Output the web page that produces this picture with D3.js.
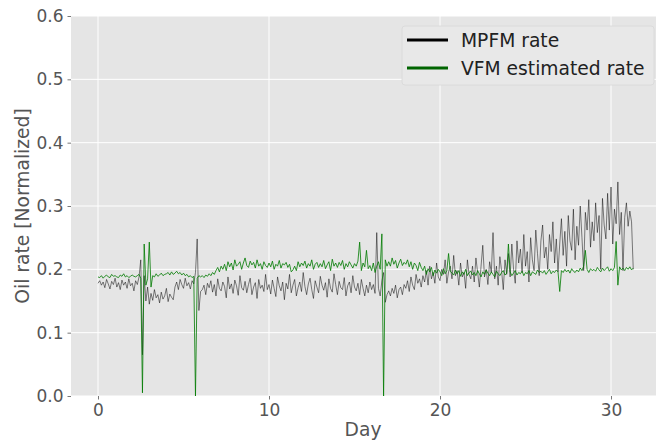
<!DOCTYPE html>
<html>
<head>
<meta charset="utf-8">
<script src="https://cdn.jsdelivr.net/npm/d3@7"></script>
<style>
  body { margin: 0; background: #fff; }
  svg text { font-family: "DejaVu Sans", sans-serif; }
</style>
</head>
<body>
<div id="chartDiv"></div>
<script>
// samples every 0.1 day, one row per day, values in thousandths
var dayStart = 0;
var dayStep = 0.1;

var mpfmRate = [
  178,182,175,180,171,184,177,169,181,176,
  186,172,179,168,183,175,180,170,185,174,
  178,166,182,176,188,215,65,190,150,172,
  145,162,151,168,155,160,147,164,153,158,
  170,149,161,156,152,172,180,168,184,176,
  170,186,174,179,169,182,177,195,248,135,
  165,168,175,160,178,171,182,164,176,158,
  185,170,166,180,173,155,188,169,177,162,
  183,174,159,190,171,167,181,163,176,186,
  160,172,179,154,184,170,175,165,192,168,
  176,161,183,170,157,188,174,166,180,152,
  178,169,192,163,175,184,158,171,180,165,
  195,173,160,177,186,168,154,182,172,163,
  189,175,167,179,156,185,170,164,193,176,
  160,181,171,168,187,158,174,180,163,190,
  172,166,178,160,184,170,158,175,163,180,
  168,176,162,258,170,158,182,195,148,160,
  166,158,170,162,175,155,168,172,160,176,
  170,182,165,188,175,168,192,178,185,172,
  190,180,198,175,205,185,195,178,210,188,
  182,200,192,215,178,196,205,185,222,190,
  198,175,210,188,195,170,215,192,185,205,
  180,218,195,172,205,238,188,200,176,212,
  195,258,185,205,175,220,198,168,215,192,
  225,188,240,200,178,245,210,232,195,255,
  205,228,180,250,215,198,262,225,190,245,
  270,218,235,200,255,228,275,210,248,196,
  240,280,222,260,205,285,245,230,295,215,
  268,238,300,250,198,290,262,310,235,275,
  245,305,258,285,200,312,270,248,320,262,
  330,240,295,272,338,255,290,198,282,305,
  268,292,275,200
];

var vfmRate = [
  188,187,190,186,189,191,188,187,192,189,
  190,188,187,191,189,193,188,190,187,189,
  191,189,188,190,192,186,5,240,175,185,
  243,172,190,188,193,189,191,194,190,192,
  193,195,191,196,192,194,197,193,195,191,
  194,190,192,188,190,187,189,0,186,190,
  188,190,187,191,189,193,190,195,192,198,
  203,196,205,200,208,198,212,204,210,199,
  215,205,208,212,200,210,218,206,203,213,
  207,211,202,215,205,209,200,212,206,203,
  210,204,213,200,208,205,214,202,209,207,
  211,203,208,196,199,205,198,212,204,210,
  206,213,202,209,205,215,200,208,211,203,
  209,204,214,201,207,212,198,216,205,210,
  203,211,206,214,200,209,204,212,207,202,
  209,205,213,243,198,210,204,230,201,206,
  198,210,195,205,212,200,256,0,215,205,
  212,205,218,208,214,202,210,216,206,211,
  208,215,204,212,200,210,206,198,211,203,
  198,205,192,201,196,203,190,199,194,200,
  196,190,201,193,198,225,197,194,191,199,
  193,198,189,196,192,200,190,195,197,191,
  195,190,198,193,188,196,192,199,194,190,
  196,192,188,197,193,190,195,198,191,194,
  240,196,190,194,198,191,195,193,197,190,
  195,193,198,190,196,194,192,199,195,197,
  194,198,192,196,200,193,197,195,199,196,
  165,198,195,200,196,199,194,201,197,195,
  199,196,202,198,205,230,200,195,201,198,
  200,197,203,199,196,202,198,201,204,197,
  201,198,203,244,175,204,199,202,198,203,
  200,204,199,202
];

var xTicks = [0, 10, 20, 30];
var yTicks = [0.0, 0.1, 0.2, 0.3, 0.4, 0.5, 0.6];
var seriesNames = ["MPFM rate", "VFM estimated rate"];
var seriesColors = ["#000000", "#006400"];

var width = 656, height = 440;
var margin = {top: 16, right: 0, bottom: 44, left: 71};

var svg = d3.select("#chartDiv").append("svg")
    .attr("width", width)
    .attr("height", height);

var x = d3.scaleLinear()
    .domain([-1.579, 32.63])
    .range([margin.left, width - margin.right]);

var y = d3.scaleLinear()
    .domain([0, 0.6])
    .range([height - margin.bottom, margin.top]);

// background
svg.append("rect")
    .attr("x", margin.left)
    .attr("y", margin.top)
    .attr("width", width - margin.left - margin.right)
    .attr("height", height - margin.top - margin.bottom)
    .attr("fill", "#e5e5e5");

svg.append("clipPath").attr("id", "plotClip")
  .append("rect")
    .attr("x", margin.left)
    .attr("y", margin.top)
    .attr("width", width - margin.left - margin.right)
    .attr("height", height - margin.top - margin.bottom);

// grid
svg.append("g").selectAll("line")
    .data(xTicks).enter().append("line")
    .attr("x1", d => x(d)).attr("x2", d => x(d))
    .attr("y1", margin.top).attr("y2", height - margin.bottom)
    .attr("stroke", "#fff").attr("stroke-width", 1);

svg.append("g").selectAll("line")
    .data(yTicks).enter().append("line")
    .attr("x1", margin.left).attr("x2", width - margin.right)
    .attr("y1", d => y(d)).attr("y2", d => y(d))
    .attr("stroke", "#fff").attr("stroke-width", 1);

// axes
var xAxis = d3.axisBottom(x).tickValues(xTicks).tickSize(3.5).tickPadding(4)
    .tickFormat(d3.format("d"));
var yAxis = d3.axisLeft(y).tickValues(yTicks).tickSize(3.5).tickPadding(4)
    .tickFormat(d3.format(".1f"));

var gx = svg.append("g")
    .attr("transform", "translate(0," + (height - margin.bottom) + ")")
    .call(xAxis);
var gy = svg.append("g")
    .attr("transform", "translate(" + margin.left + ",0)")
    .call(yAxis);

[gx, gy].forEach(g => {
    g.select(".domain").remove();
    g.selectAll(".tick line").attr("stroke", "#555").attr("stroke-width", 0.8);
    g.selectAll(".tick text").attr("fill", "#555").style("font-size", "17px");
});

svg.append("text")
    .attr("x", x(15.5))
    .attr("y", 436)
    .attr("text-anchor", "middle")
    .attr("fill", "#555")
    .style("font-size", "18.7px")
    .text("Day");

svg.append("text")
    .attr("transform", "translate(29," + y(0.3) + ") rotate(-90)")
    .attr("text-anchor", "middle")
    .attr("fill", "#555")
    .style("font-size", "18.7px")
    .text("Oil rate [Normalized]");

// series
var line = d3.line()
    .x((d, i) => x(dayStart + i * dayStep))
    .y(d => y(d / 1000));

var plot = svg.append("g").attr("clip-path", "url(#plotClip)");

plot.append("path")
    .datum(mpfmRate)
    .attr("d", line)
    .attr("fill", "none")
    .attr("stroke", "#000")
    .attr("stroke-opacity", 0.7)
    .attr("stroke-width", 0.7);

plot.append("path")
    .datum(vfmRate)
    .attr("d", line)
    .attr("fill", "none")
    .attr("stroke", "#007a00")
    .attr("stroke-opacity", 0.8)
    .attr("stroke-width", 1);

// legend
var legend = svg.append("g").attr("transform", "translate(402,26)");
legend.append("rect")
    .attr("width", 252).attr("height", 59)
    .attr("rx", 3)
    .attr("fill", "#e8e8e8")
    .attr("stroke", "#d8d8d8")
    .attr("stroke-width", 0.8);

var items = legend.selectAll(".item")
    .data(seriesNames).enter().append("g")
    .attr("transform", (d, i) => "translate(0," + (14 + i * 28) + ")");

items.append("line")
    .attr("x1", 5).attr("x2", 46)
    .attr("stroke", (d, i) => seriesColors[i])
    .attr("stroke-width", 3);

items.append("text")
    .attr("x", 59)
    .attr("y", 6.5)
    .attr("fill", "#222")
    .style("font-size", "18.7px")
    .text(d => d);
</script>
</body>
</html>
